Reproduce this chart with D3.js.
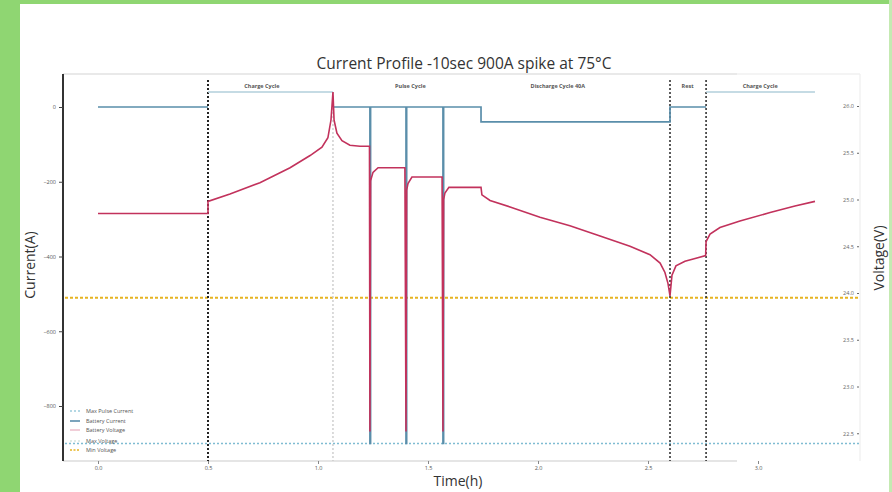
<!DOCTYPE html>
<html><head><meta charset="utf-8">
<script src="https://cdn.jsdelivr.net/npm/d3@7"></script>
<style>body{margin:0;background:#fff;}svg{display:block;}</style>
</head><body>
<svg id="c" width="892" height="492"></svg>
<script>
// ---- data ----
const xTicks = [0, 0.5, 1.0, 1.5, 2.0, 2.5, 3.0];
const xTickLabels = ["0.0", "0.5", "1.0", "1.5", "2.0", "2.5", "3.0"];
const currentTicks = [0, -200, -400, -600, -800];
const voltageTicks = [26.0, 25.5, 25.0, 24.5, 24.0, 23.5, 23.0, 22.5];

const currentTime = [0, 0.5, 0.5, 1.068, 1.068, 1.236, 1.236, 1.239, 1.239, 1.4, 1.4, 1.403, 1.403,
  1.568, 1.568, 1.571, 1.571, 1.741, 1.741, 2.6, 2.6, 2.764, 2.764, 3.259];
const currentValue = [0, 0, 40, 40, 0, 0, -900, -900, 0, 0, -900, -900, 0,
  0, -900, -900, 0, 0, -40, -40, 0, 0, 40, 40];

const voltageTime = [0, 0.5, 0.5, 0.6, 0.736, 0.873, 0.964, 1.018, 1.045, 1.059, 1.068,
  1.073, 1.086, 1.109, 1.145, 1.191, 1.234,
  1.236, 1.239, 1.25, 1.273, 1.395,
  1.4, 1.403, 1.409, 1.427, 1.564,
  1.568, 1.571, 1.577, 1.595, 1.741,
  1.745, 1.782, 1.873, 2.009, 2.145, 2.282, 2.418, 2.509, 2.555, 2.577, 2.591, 2.6,
  2.609, 2.627, 2.668, 2.714, 2.762,
  2.764, 2.782, 2.827, 2.918, 3.055, 3.168, 3.259];
const voltageValue = [24.85, 24.85, 24.98, 25.06, 25.18, 25.34, 25.47, 25.56, 25.66, 25.85, 26.15,
  25.85, 25.71, 25.63, 25.58, 25.57, 25.57,
  22.52, 25.20, 25.29, 25.34, 25.34,
  22.52, 25.10, 25.17, 25.24, 25.24,
  22.52, 25.00, 25.07, 25.13, 25.13,
  25.05, 24.99, 24.92, 24.81, 24.72, 24.61, 24.50, 24.41, 24.32, 24.22, 24.10, 23.97,
  24.19, 24.29, 24.34, 24.37, 24.40,
  24.55, 24.63, 24.70, 24.77, 24.86, 24.93, 24.98];

const maxPulseCurrent = -900;
const minVoltage = 23.95;
const phaseBounds = [0.5, 1.068, 2.6, 2.764];
const phaseLabels = ["Charge Cycle", "Pulse Cycle", "Discharge Cycle 40A", "Rest", "Charge Cycle"];
const phaseLabelTimes = [0.745, 1.42, 2.09, 2.68, 3.01];
const legendLabels = ["Max Pulse Current", "Battery Current", "Battery Voltage", "Max Voltage", "Min Voltage"];

// ---- drawing ----
const svg = d3.select("#c");
const FONT = "'Open Sans', 'DejaVu Sans', sans-serif";
const L = 63, R = 860, T = 74, B = 461;

// green frame
svg.append("rect").attr("x", 0).attr("y", 0).attr("width", 892).attr("height", 492).attr("fill", "#fff");
svg.append("rect").attr("x", 0).attr("y", 0).attr("width", 20).attr("height", 492).attr("fill", "#8fd672");
svg.append("rect").attr("x", 0).attr("y", 0).attr("width", 892).attr("height", 4).attr("fill", "#8fd672");
svg.append("rect").attr("x", 889).attr("y", 0).attr("width", 3).attr("height", 492).attr("fill", "#c4eab2");

const x = d3.scaleLinear().domain([0, 3]).range([98, 758]);
const yI = d3.scaleLinear().domain([0, -800]).range([107, 406]);
const yV = d3.scaleLinear().domain([26, 24]).range([106, 293]);

// frame lines
svg.append("line").attr("x1", L).attr("x2", 737).attr("y1", T).attr("y2", T).attr("stroke", "#e2e2e2").attr("stroke-width", 1.5);
svg.append("line").attr("x1", 737).attr("x2", R).attr("y1", T).attr("y2", T).attr("stroke", "#f0f0f0").attr("stroke-width", 1.5);
svg.append("line").attr("x1", R).attr("x2", R).attr("y1", T).attr("y2", B).attr("stroke", "#eeeeee").attr("stroke-width", 1.2);
svg.append("line").attr("x1", L).attr("x2", 737).attr("y1", B).attr("y2", B).attr("stroke", "#dcdcdc").attr("stroke-width", 1.5);

// title
svg.append("text").attr("x", 464).attr("y", 69).attr("text-anchor", "middle")
  .attr("font-family", FONT).attr("font-size", 15.5).attr("fill", "#333")
  .text("Current Profile -10sec 900A spike at 75°C");

// reference lines
svg.append("line").attr("x1", L + 2).attr("x2", R).attr("y1", yV(minVoltage)).attr("y2", yV(minVoltage))
  .attr("stroke", "#e6b422").attr("stroke-width", 2).attr("stroke-dasharray", "3,2");
svg.append("line").attr("x1", L + 2).attr("x2", R).attr("y1", yI(maxPulseCurrent)).attr("y2", yI(maxPulseCurrent))
  .attr("stroke", "#7fbcd2").attr("stroke-width", 1.5).attr("stroke-dasharray", "2,2");

// phase boundaries
const boundStyles = [
  {c: "#222", w: 2, top: 80},
  {c: "#c8c8c8", w: 1.3, top: 92},
  {c: "#333", w: 1.6, top: 80},
  {c: "#333", w: 1.6, top: 80}
];
phaseBounds.forEach((t, i) => {
  svg.append("line").attr("x1", x(t)).attr("x2", x(t)).attr("y1", boundStyles[i].top).attr("y2", B)
    .attr("stroke", boundStyles[i].c).attr("stroke-width", boundStyles[i].w).attr("stroke-dasharray", "2,2");
});
phaseLabels.forEach((s, i) => {
  svg.append("text").attr("x", x(phaseLabelTimes[i])).attr("y", 88).attr("text-anchor", "middle")
    .attr("font-family", FONT).attr("font-size", 5.5).attr("font-weight", "bold").attr("fill", "#555").text(s);
});

// current line
const cur = currentTime.map((t, i) => ({t, v: currentValue[i]}));
svg.append("path").datum(cur)
  .attr("d", d3.line().defined(d => d.v > 0).x(d => x(d.t)).y(d => yI(d.v)))
  .attr("fill", "none").attr("stroke", "#b3cfdc").attr("stroke-width", 1.6);
svg.append("path").datum(cur)
  .attr("d", d3.line().defined(d => d.v <= 0).x(d => x(d.t)).y(d => yI(d.v)))
  .attr("fill", "none").attr("stroke", "#5a8eaa").attr("stroke-width", 1.7);

// voltage line
const volt = voltageTime.map((t, i) => ({t, v: voltageValue[i]}));
svg.append("path").datum(volt)
  .attr("d", d3.line().x(d => x(d.t)).y(d => yV(d.v)))
  .attr("fill", "none").attr("stroke", "#c2325c").attr("stroke-width", 1.6);

// left axis
svg.append("line").attr("x1", L).attr("x2", L).attr("y1", T).attr("y2", B).attr("stroke", "#333").attr("stroke-width", 2);
const gl = svg.append("g").attr("transform", `translate(${L},0)`)
  .call(d3.axisLeft(yI).tickValues(currentTicks).tickSize(4).tickFormat(d3.format("d")));
gl.select(".domain").remove();
gl.selectAll("text").attr("font-family", FONT).attr("font-size", 5.5).attr("fill", "#555");
gl.selectAll("line").attr("stroke", "#444");

// right axis (labels inside)
const gr = svg.append("g").attr("transform", `translate(${R - 1},0)`)
  .call(d3.axisLeft(yV).tickValues(voltageTicks).tickSize(2).tickPadding(3).tickFormat(d3.format(".1f")));
gr.select(".domain").remove();
gr.selectAll("text").attr("font-family", FONT).attr("font-size", 5.5).attr("fill", "#666");
gr.selectAll("line").attr("stroke", "#666");

// bottom axis
const gb = svg.append("g").attr("transform", `translate(0,${B})`)
  .call(d3.axisBottom(x).tickValues(xTicks).tickSize(3).tickPadding(2).tickFormat((d, i) => xTickLabels[i]));
gb.select(".domain").remove();
gb.selectAll("text").attr("font-family", FONT).attr("font-size", 5.5).attr("fill", "#555");
gb.selectAll("line").attr("stroke", "#888");

// axis titles
svg.append("text").attr("transform", "translate(35,265) rotate(-90)").attr("text-anchor", "middle")
  .attr("font-family", FONT).attr("font-size", 14).attr("fill", "#333").text("Current(A)");
svg.append("text").attr("transform", "translate(884,258) rotate(-90)").attr("text-anchor", "middle")
  .attr("font-family", FONT).attr("font-size", 14).attr("fill", "#333").text("Voltage(V)");
svg.append("text").attr("x", 458).attr("y", 486).attr("text-anchor", "middle")
  .attr("font-family", FONT).attr("font-size", 14).attr("fill", "#333").text("Time(h)");

// legend
const legStyles = [
  {c: "#9ccbdc", dash: "2,2", w: 1.3},
  {c: "#4f86a6", dash: null, w: 1.5},
  {c: "#eab3c3", dash: null, w: 1.3},
  {c: "#d6e6df", dash: "2,2", w: 1.3},
  {c: "#e6b422", dash: "2,1.5", w: 1.6}
];
const legY = [411, 421, 430, 441, 450];
legendLabels.forEach((s, i) => {
  const ln = svg.append("line").attr("x1", 70).attr("x2", 80).attr("y1", legY[i]).attr("y2", legY[i])
    .attr("stroke", legStyles[i].c).attr("stroke-width", legStyles[i].w);
  if (legStyles[i].dash) ln.attr("stroke-dasharray", legStyles[i].dash);
  svg.append("text").attr("x", 86).attr("y", legY[i] + 2).attr("font-family", FONT)
    .attr("font-size", 5.5).attr("fill", "#555").text(s);
});
</script>
</body></html>
